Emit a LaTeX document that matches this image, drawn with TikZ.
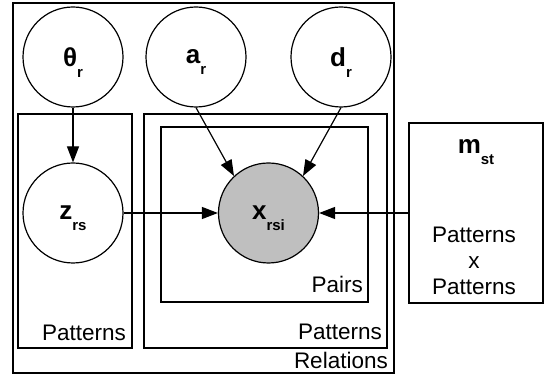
\documentclass[tikz,border=0pt]{standalone}
\usepackage{fontspec}
\setmainfont{Liberation Sans}
\usetikzlibrary{arrows.meta}
\newcommand\mysub[1]{\raisebox{-11pt}[0pt][0pt]{\fontsize{15}{15}\selectfont\bfseries #1}}
\begin{document}
\begin{tikzpicture}[x=1pt,y=-1pt,
 var/.style={circle,draw,line width=1.2pt,minimum size=100pt,inner sep=0pt,font=\fontsize{26}{26}\selectfont\bfseries},
 obs/.style={var,fill=gray!50!white},
 plate/.style={draw,line width=1.2pt,inner sep=0pt},
 lbl/.style={font=\fontsize{22.5}{26}\selectfont,inner sep=0pt,anchor=base east},
 arr/.style={-{Triangle[length=16pt,width=12pt]},line width=1.2pt}]
\useasboundingbox (0,0) rectangle (547,379);
% plates
\node[plate,minimum width=381pt,minimum height=370pt] (rel) at (203.5,188) {};
\node[plate,minimum width=114pt,minimum height=234pt] (patL) at (75,231) {};
\node[plate,minimum width=243pt,minimum height=234pt] (patM) at (265.5,231) {};
\node[plate,minimum width=207pt,minimum height=175pt] (pairs) at (264.5,214.5) {};
\node[plate,minimum width=134pt,minimum height=180pt] (mbox) at (476,213) {};
% plate labels
\node[lbl] (lrel) at (388,369) {Relations};
\node[lbl] (lpatL) at (126,341) {Patterns};
\node[lbl] (lpatM) at (382,340) {Patterns};
\node[lbl] (lpairs) at (363,293) {Pairs};
% variables
\node[var] (th) at (73,57) {θ\mysub{r}};
\node[var] (a) at (196,57) {a\mysub{r}};
\node[var] (d) at (341,57) {d\mysub{r}};
\node[var] (z) at (73,213) {z\mysub{rs}};
\node[obs] (x) at (268.5,213) {x\mysub{rsi}};
\node[font=\fontsize{26}{26}\selectfont\bfseries,inner sep=0pt] (m) at (476,147) {m\mysub{st}};
\node[font=\fontsize{22.5}{26}\selectfont,inner sep=0pt,align=center,anchor=north] (mtxt) at (474,227) {Patterns\\x\\Patterns};
% edges
\draw[arr] (th.south) -- (z.north);
\draw[arr] (a.south) -- (x.133);
\draw[arr] (d.south) -- (x.47);
\draw[arr] (z.east) -- (x.west);
\draw[arr] (mbox.west) -- (x.east);
\end{tikzpicture}
\end{document}
